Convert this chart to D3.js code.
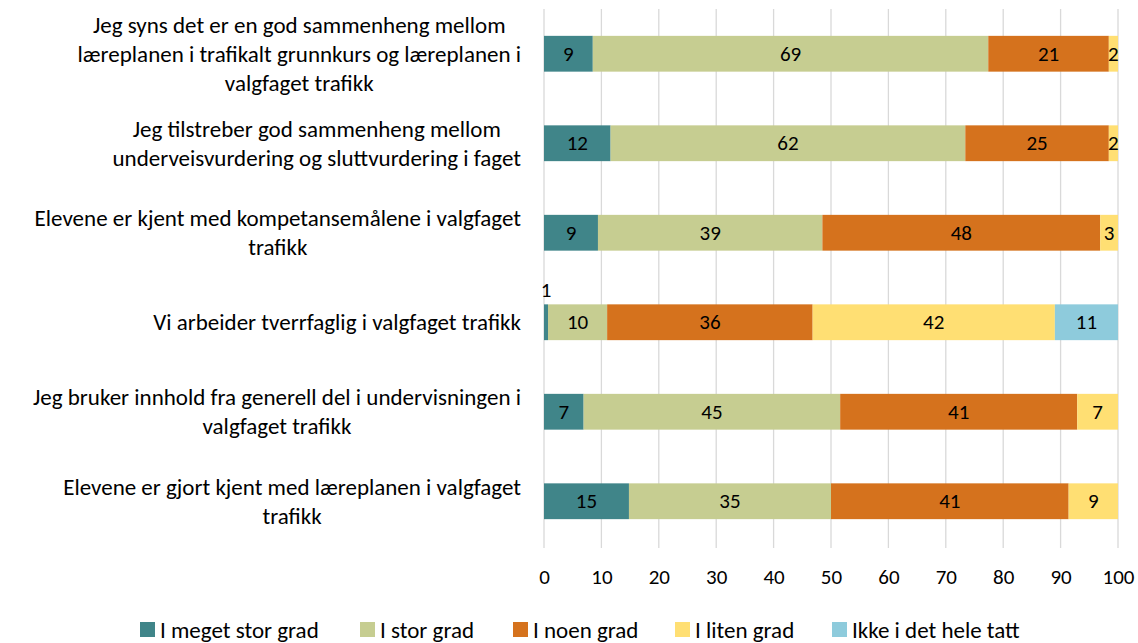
<!DOCTYPE html>
<html>
<head>
<meta charset="utf-8">
<script src="https://cdn.jsdelivr.net/npm/d3@7"></script>
<style>
  body { margin: 0; background: #fff; }
  svg text { font-family: Carlito, Calibri, Lato, sans-serif; fill: #000; }
</style>
</head>
<body>
<svg id="svg1" width="1138" height="643"></svg>
<script>
// kategorier (linjeskift som i originalen)
var categories = [
  "Jeg syns det er en god sammenheng mellom\nlæreplanen i trafikalt grunnkurs og læreplanen i\nvalgfaget trafikk",
  "Jeg tilstreber god sammenheng mellom\nunderveisvurdering og sluttvurdering i faget",
  "Elevene er kjent med kompetansemålene i valgfaget\ntrafikk",
  "Vi arbeider tverrfaglig i valgfaget trafikk",
  "Jeg bruker innhold fra generell del i undervisningen i\nvalgfaget trafikk",
  "Elevene er gjort kjent med læreplanen i valgfaget\ntrafikk"
];

var seriesNames = ["I meget stor grad", "I stor grad", "I noen grad", "I liten grad", "Ikke i det hele tatt"];
var seriesColors = ["#408589", "#c6cd91", "#d5721d", "#ffdf73", "#8ecbdc"];

// prosent per serie, en verdi per kategori
var megetStor = [8.5, 11.6, 9.4, 0.7, 6.9, 14.8];
var stor      = [68.9, 61.8, 39.1, 10.3, 44.7, 35.2];
var noen      = [21.0, 25.0, 48.4, 35.8, 41.3, 41.4];
var liten     = [1.6, 1.6, 3.1, 42.2, 7.1, 8.6];
var ikke      = [0, 0, 0, 11.0, 0, 0];

var xTicks = [0, 10, 20, 30, 40, 50, 60, 70, 80, 90, 100];

var seriesValues = [megetStor, stor, noen, liten, ikke];

var numSize = 21;   // tall
var textSize = 23;  // tekst

var svg = d3.select('svg');

var x = d3.scaleLinear().domain([0, 100]).range([544, 1118]);
var y = d3.scaleBand()
    .domain(d3.range(categories.length))
    .range([9, 546])
    .paddingInner(0.6)
    .paddingOuter(0.3);

// rutenett
svg.append("g")
    .selectAll("line")
    .data(xTicks)
    .enter().append("line")
    .attr("x1", function(d) { return x(d); })
    .attr("x2", function(d) { return x(d); })
    .attr("y1", 9)
    .attr("y2", 548)
    .attr("stroke", "#d9d9d9")
    .attr("stroke-width", 1.3);

// x-akse tall
var xAxis = svg.append("g")
    .attr("transform", "translate(0,548)")
    .call(d3.axisBottom(x).tickValues(xTicks).tickSize(0).tickPadding(21));
xAxis.select(".domain").remove();
xAxis.selectAll("text")
    .style("font-size", numSize + "px")
    .attr("fill", "#000");

// stablet data
var rows = categories.map(function(c, i) {
    var row = { i: i };
    seriesNames.forEach(function(s, k) { row[s] = seriesValues[k][i]; });
    return row;
});
var stacked = d3.stack().keys(seriesNames)(rows);

var layer = svg.append("g")
    .selectAll("g")
    .data(stacked)
    .enter().append("g")
    .attr("fill", function(d, k) { return seriesColors[k]; });

layer.selectAll("rect")
    .data(function(d) { return d; })
    .enter().append("rect")
    .attr("x", function(d) { return x(d[0]); })
    .attr("y", function(d) { return y(d.data.i); })
    .attr("width", function(d) { return x(d[1]) - x(d[0]); })
    .attr("height", y.bandwidth());

// verdietiketter
layer.selectAll("text")
    .data(function(d) { return d.filter(function(p) { return p[1] - p[0] > 0; }); })
    .enter().append("text")
    .attr("x", function(d) { return (x(d[0]) + x(d[1])) / 2; })
    .attr("y", function(d) {
        var v = d[1] - d[0];
        return v < 1 ? y(d.data.i) - 14 : y(d.data.i) + y.bandwidth() / 2;
    })
    .attr("text-anchor", "middle")
    .attr("dominant-baseline", "central")
    .style("font-size", numSize + "px")
    .text(function(d) { return Math.round(d[1] - d[0]); });

// kategorietiketter, sentrert i blokk høyrejustert mot 521
var lineH = 29;
var labels = svg.append("g")
    .selectAll("g")
    .data(categories)
    .enter().append("g");

labels.each(function(c, i) {
    var g = d3.select(this);
    var lines = c.split("\n");
    var n = lines.length;
    var t = g.selectAll("text")
        .data(lines)
        .enter().append("text")
        .attr("text-anchor", "middle")
        .attr("dominant-baseline", "central")
        .style("font-size", textSize + "px")
        .attr("y", function(d, j) { return y(i) + y.bandwidth() / 2 + (j - (n - 1) / 2) * lineH; })
        .text(function(d) { return d; });
    var maxW = 0;
    t.each(function() { maxW = Math.max(maxW, this.getComputedTextLength()); });
    t.attr("x", 521 - maxW / 2);
});

// forklaring
var legendX = [140, 360, 513, 675, 832];
var legend = svg.append("g")
    .selectAll("g")
    .data(seriesNames)
    .enter().append("g")
    .attr("transform", function(d, k) { return "translate(" + legendX[k] + ",622)"; });

legend.append("rect")
    .attr("width", 15)
    .attr("height", 15)
    .attr("fill", function(d, k) { return seriesColors[k]; });

legend.append("text")
    .attr("x", 20)
    .attr("y", 8)
    .attr("dominant-baseline", "central")
    .style("font-size", textSize + "px")
    .text(function(d) { return d; });
</script>
</body>
</html>
